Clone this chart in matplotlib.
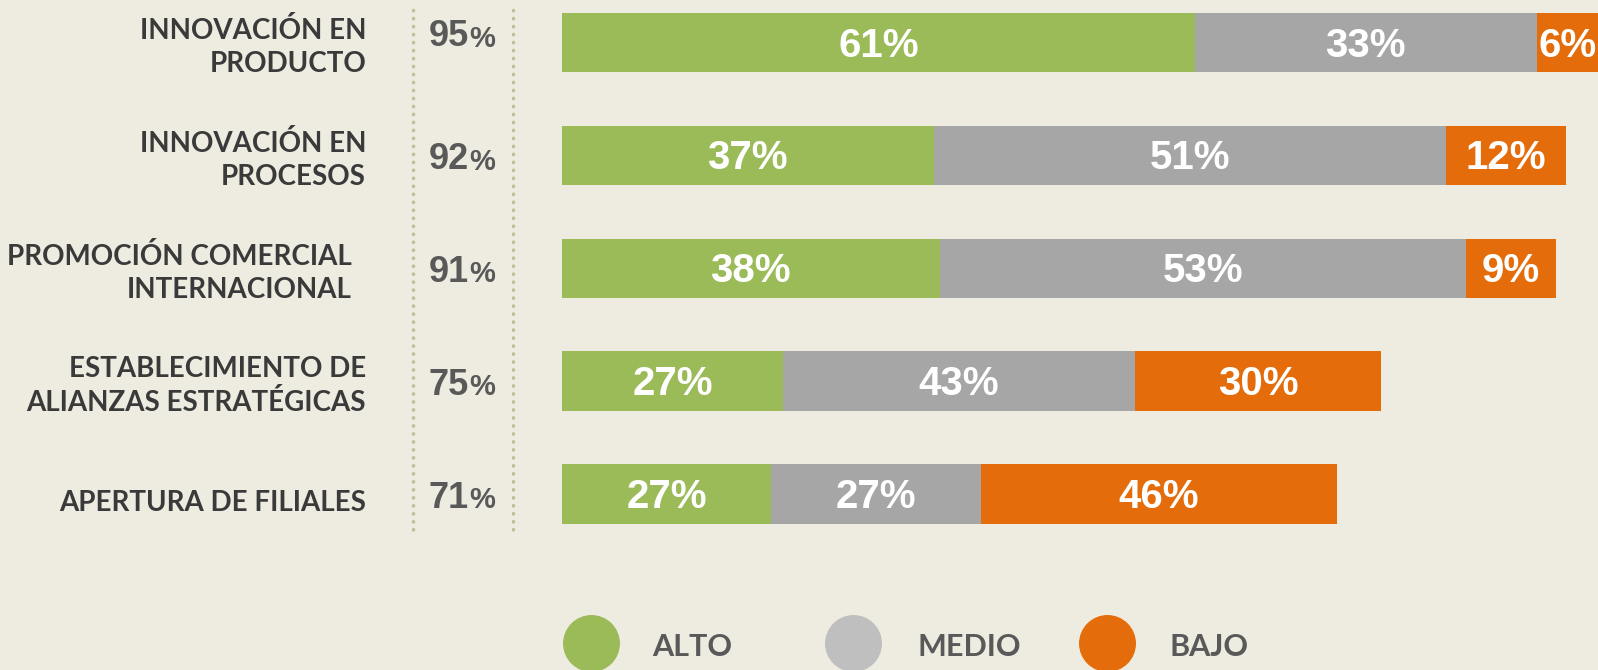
import matplotlib.pyplot as plt
import matplotlib.transforms as mtransforms
import numpy as np

# data
categories = ['INNOVACIÓN EN\nPRODUCTO', 'INNOVACIÓN EN\nPROCESOS',
              'PROMOCIÓN COMERCIAL\nINTERNACIONAL', 'ESTABLECIMIENTO DE\nALIANZAS ESTRATÉGICAS',
              'APERTURA DE FILIALES']
totals = [95, 92, 91, 75, 71]      # % of firms (bar length)
alto = [61, 37, 38, 27, 27]        # share inside each bar
medio = [33, 51, 53, 43, 27]
bajo = [6, 12, 9, 30, 46]
series_names = ['ALTO', 'MEDIO', 'BAJO']

bg = '#EEECE1'
bar_colors = ['#9BBB59', '#A6A6A6', '#E46C0A']
legend_colors = ['#9BBB59', '#BFBFBF', '#E46C0A']
label_font = 'Lato'
num_font = 'Liberation Sans'

W, H = 1598, 670
fig = plt.figure(figsize=(W / 100, H / 100), dpi=100, facecolor=bg)
x0 = 562 / W
ax = fig.add_axes([x0, 0, 1 - x0, 1])
ax.set_facecolor(bg)
ax.set_xlim(0, (W - 562) / 10.918)
ax.set_ylim(5.56, -0.379)
ax.axis('off')

y = np.arange(len(categories))
shares = np.array([alto, medio, bajo], dtype=float)
tot = np.array(totals, dtype=float)
left = np.zeros(len(categories))
xmax = ax.get_xlim()[1]
for i in range(3):
    widths = shares[i] * tot / 100
    ax.barh(y, widths, left=left, height=0.527, color=bar_colors[i], edgecolor='none')
    for j in range(len(categories)):
        right = min(left[j] + widths[j], xmax)
        ax.text((left[j] + right) / 2, y[j] - 0.01, '%d%%' % shares[i][j], ha='center',
                va='center_baseline', color='white', fontsize=29, fontweight='bold',
                family=num_font)
    left = left + widths

# left side labels
trans = mtransforms.blended_transform_factory(fig.transFigure, ax.transData)
label_right = [366, 366, 352, 366, 366]
label_dy = [0.04, 0.04, 0.04, 0.04, 0.08]
pct_dy = [-0.09, 0, 0, 0, 0]
for j, name in enumerate(categories):
    fig.text(label_right[j] / W, y[j] + label_dy[j], name, transform=trans, ha='right',
             va='center', fontsize=20, fontweight='bold', family=label_font,
             color='#3A3A3A', linespacing=1.32)
    t = fig.text(429 / W, y[j] + pct_dy[j], str(totals[j]), transform=trans, ha='left',
                 va='center_baseline', fontsize=26, fontweight='bold', family=num_font,
                 color='#595959')
    fig.add_artist(plt.Annotation('%', xy=(1, 0), xycoords=t, xytext=(0, 1),
                                  textcoords='offset points', ha='left', va='bottom',
                                  fontsize=21, fontweight='bold', family=num_font,
                                  color='#595959'))

# dotted guides
for xp in (413, 513):
    fig.add_artist(plt.Line2D([xp / W, xp / W], [-0.29, 4.34], transform=trans,
                              color='#C4BD97', lw=2.5, linestyle=(0, (0.1, 2.2)),
                              dash_capstyle='round'))

# legend
leg_cx = [591, 853, 1107]
leg_tx = [652, 917, 1169]
for k in range(3):
    fig.add_artist(plt.Line2D([leg_cx[k] / W], [1 - 643 / H], transform=fig.transFigure,
                              marker='o', markersize=40, color=legend_colors[k], lw=0))
    fig.text(leg_tx[k] / W, 1 - 647 / H, series_names[k], ha='left', va='center',
             fontsize=22, fontweight='bold', family=label_font, color='#595959')

fig.savefig('out.png', dpi=100, facecolor=bg)
